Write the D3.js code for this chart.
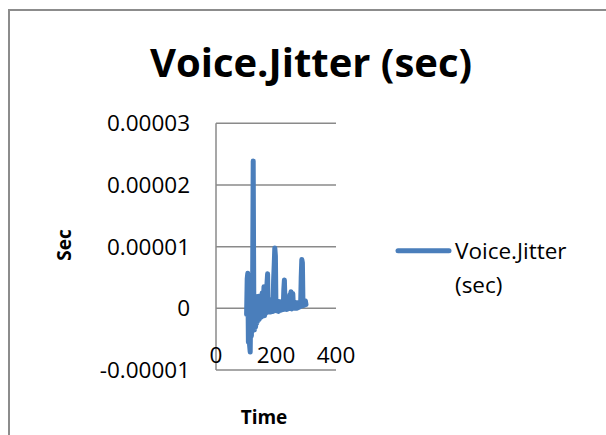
<!DOCTYPE html>
<html>
<head>
<meta charset="utf-8">
<script src="https://cdn.jsdelivr.net/npm/d3@7"></script>
<style>
  html, body { margin: 0; padding: 0; background: #fff; }
  svg { display: block; }
  text { font-family: "Open Sans", "Noto Sans", sans-serif; fill: #000; }
</style>
</head>
<body>
<svg id="chart" width="606" height="435"></svg>
<script>
// ---- data ----
const chartTitle = "Voice.Jitter (sec)";
const seriesName = "Voice.Jitter (sec)";
const xTitle = "Time";
const yTitle = "Sec";
const xTicks = [0, 200, 400];
const yTicks = [-0.00001, 0, 0.00001, 0.00002, 0.00003];
const yTickLabels = ["-0.00001", "0", "0.00001", "0.00002", "0.00003"];
const times = [102,104,106,108,110,112,114,116,118,120,122,124,126,128,130,132,134,136,138,140,
  142,144,146,148,150,152,154,156,158,160,162,164,166,168,170,172,174,176,178,180,
  182,184,186,188,190,192,194,196,198,200,202,204,206,208,210,212,214,216,218,220,
  222,224,226,228,230,232,234,236,238,240,242,244,246,248,250,252,254,256,258,260,
  262,264,266,268,270,272,274,276,278,280,282,284,286,288,290,292,294,296,298,300];
const jitterMicro = [-1.0,4.8,5.7,-5.5,2.5,-6.0,-7.1,0.5,-4.5,1.0,3.0,23.9,1.0,-3.5,1.8,-3.0,1.5,-2.4,1.9,-2.0,
  1.6,-1.8,2.0,-1.5,1.2,-1.4,2.5,-1.0,1.5,3.5,-1.2,2.2,-0.8,1.8,4.0,5.6,-0.6,1.5,-0.5,1.2,
  -0.6,1.4,-0.4,1.3,-0.5,4.5,7.0,9.8,8.5,-0.4,1.2,-0.3,1.0,-0.5,1.1,-0.2,1.0,-0.3,0.9,-0.2,
  1.2,-0.2,3.0,4.6,0.9,-0.1,1.0,-0.2,0.8,-0.1,1.5,0.0,2.2,1.0,2.7,-0.1,0.9,2.4,0.2,0.9,
  0.0,1.0,0.1,0.8,0.0,0.9,0.1,0.8,0.2,1.0,0.3,5.0,7.9,7.4,0.4,1.0,0.5,0.9,1.2,0.6];
const values = jitterMicro.map(v => v * 1e-6);

// ---- layout ----
const svg = d3.select("#chart");
const plot = { left: 216, right: 336, top: 123.3, bottom: 370 };
const x = d3.scaleLinear().domain([0, 400]).range([plot.left, plot.right]);
const y = d3.scaleLinear().domain([-0.00001, 0.00003]).range([plot.bottom, plot.top]);
const gridColor = "#8a8a8a";
const lineColor = "#4a7ebb";

// outer border
svg.append("rect").attr("x", 9).attr("y", 10).attr("width", 620).attr("height", 440)
  .attr("fill", "#fff").attr("stroke", "#8c8c8c").attr("stroke-width", 2);

// title
svg.append("text").attr("x", 311).attr("y", 77).attr("text-anchor", "middle")
  .style("font-size", "40px").style("font-weight", "bold").text(chartTitle);

// gridlines
svg.append("g").selectAll("line").data(yTicks).join("line")
  .attr("x1", plot.left).attr("x2", plot.right)
  .attr("y1", d => y(d)).attr("y2", d => y(d))
  .attr("stroke", gridColor).attr("stroke-width", 1.5);

// y axis line
svg.append("line").attr("x1", plot.left).attr("x2", plot.left)
  .attr("y1", plot.top).attr("y2", plot.bottom)
  .attr("stroke", gridColor).attr("stroke-width", 1.5);

// y tick labels
svg.append("g").selectAll("text").data(yTicks).join("text")
  .attr("x", 190).attr("y", d => y(d)).attr("dy", "0.36em")
  .attr("text-anchor", "end").style("font-size", "22.5px")
  .text((d, i) => yTickLabels[i]);

// x tick labels (Excel positions them between 0 line and bottom)
svg.append("g").selectAll("text").data(xTicks).join("text")
  .attr("x", d => x(d)).attr("y", 355).attr("dy", "0.36em")
  .attr("text-anchor", "middle").style("font-size", "22.5px")
  .text(d => d);

// series line
const line = d3.line().x((d, i) => x(times[i])).y(d => y(d));
svg.append("path").datum(values).attr("d", line)
  .attr("fill", "none").attr("stroke", lineColor).attr("stroke-width", 5)
  .attr("stroke-linejoin", "round").attr("stroke-linecap", "round");

// axis titles
svg.append("text").attr("transform", "translate(64,245) rotate(-90)")
  .attr("text-anchor", "middle").attr("dy", "0.36em")
  .style("font-size", "19px").style("font-weight", "bold").text(yTitle);
svg.append("text").attr("x", 264).attr("y", 417).attr("dy", "0.36em")
  .attr("text-anchor", "middle").style("font-size", "19px").style("font-weight", "bold").text(xTitle);

// legend
svg.append("line").attr("x1", 398).attr("x2", 449).attr("y1", 250.7).attr("y2", 250.7)
  .attr("stroke", lineColor).attr("stroke-width", 5).attr("stroke-linecap", "round");
const legendText = svg.append("text").attr("x", 455).attr("y", 251).style("font-size", "22.5px");
const parts = seriesName.split(" ");
legendText.append("tspan").attr("x", 455).attr("dy", "0.36em").text(parts[0]);
legendText.append("tspan").attr("x", 455).attr("dy", "34").text(parts[1]);
</script>
</body>
</html>
